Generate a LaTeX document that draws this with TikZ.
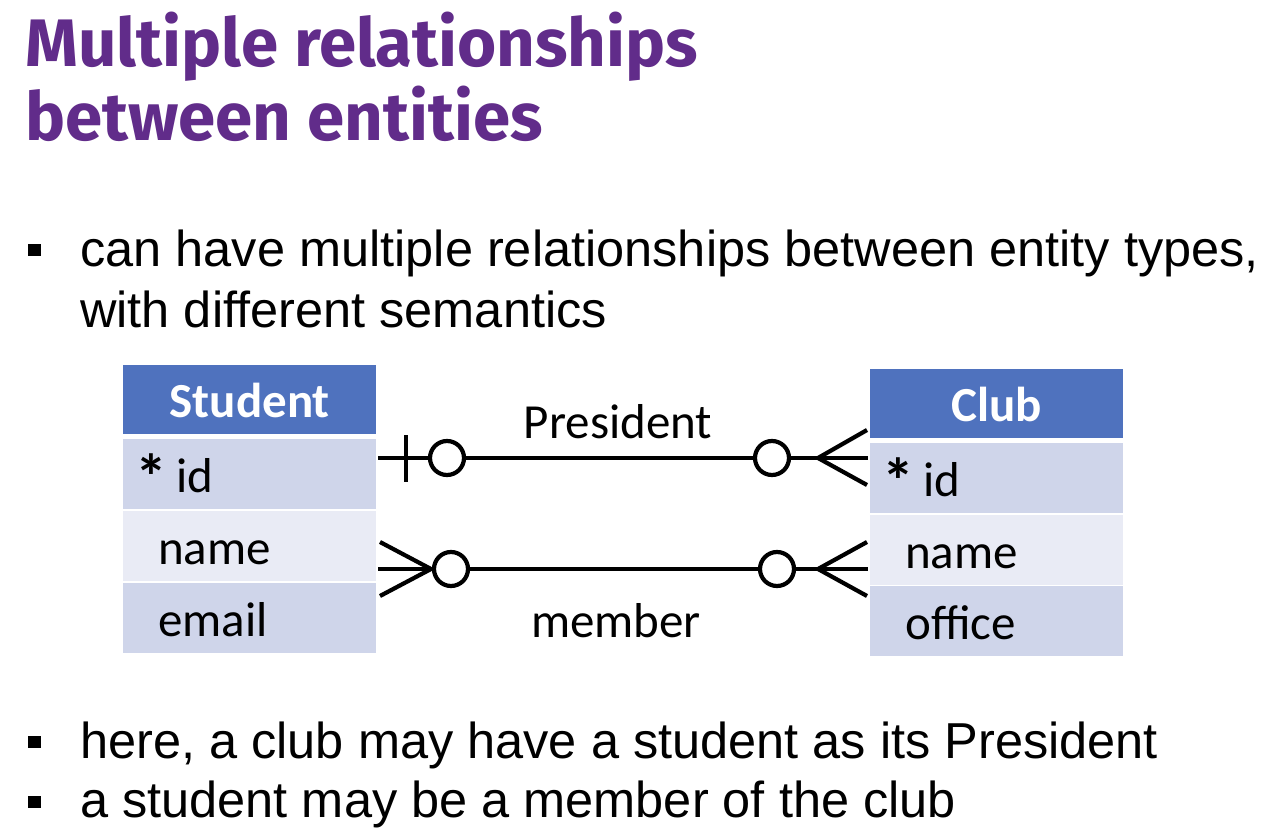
\documentclass[tikz,border=0pt]{standalone}
\usepackage{fontspec}
\setmainfont{Liberation Sans}
\newfontfamily\headfont{Fira Sans}
\newfontfamily\tablefont{Carlito}
\definecolor{titlepurple}{RGB}{97,44,138}
\definecolor{hdrblue}{RGB}{79,114,190}
\definecolor{rowdark}{RGB}{207,213,234}
\definecolor{rowlight}{RGB}{233,235,245}
\newcommand{\keymark}{\raisebox{-7pt}{\bfseries\fontsize{64}{64}\selectfont *}\hspace{9pt}}
\begin{document}
\begin{tikzpicture}[x=1pt,y=-1pt,
  titleline/.style={anchor=base west, inner sep=0, text=titlepurple,
    font=\headfont\bfseries\fontsize{67.2}{70}\selectfont},
  bodytext/.style={anchor=base west, inner sep=0, font=\fontsize{50.5}{60}\selectfont},
  bulletsq/.style={fill=black, draw=none, minimum size=12.5, inner sep=0},
  hdrcell/.style={anchor=north west, fill=hdrblue, text=white, inner sep=0,
    minimum width=253, minimum height=69, text height=36, text depth=0,
    font=\tablefont\bfseries\fontsize{49}{50}\selectfont},
  cell/.style={anchor=north west, inner xsep=12, inner ysep=0, text width=229,
    align=left, minimum height=70, text height=36, text depth=0,
    font=\tablefont\fontsize{49}{50}\selectfont},
  darkcell/.style={cell, fill=rowdark},
  lightcell/.style={cell, fill=rowlight},
  rellabel/.style={anchor=base, inner sep=0, font=\tablefont\fontsize{49}{50}\selectfont},
  rel/.style={draw=black, line width=4.2pt},
  ring/.style={rel, fill=white}
]
\fill[white] (0,0) rectangle (1266,840);
\useasboundingbox (0,0) rectangle (1266,840);

% title
\node[titleline] (t1) at (25,67) {Multiple relationships};
\node[titleline] (t2) at (25,140) {between entities};

% bullet points
\node[bulletsq] (b1) at (34.5,250) {};
\node[bodytext] (l1) at (80,266) {can have multiple relationships between entity types,};
\node[bodytext] (l2) at (80,327) {with different semantics};
\node[bulletsq] (b2) at (34.5,742) {};
\node[bodytext] (l3) at (80,758) {here, a club may have a student as its President};
\node[bulletsq] (b3) at (34.5,802) {};
\node[bodytext] (l4) at (80,817) {a student may be a member of the club};

% Student entity
\node[hdrcell] (shd) at (123,365) {Student};
\node[darkcell] (sid) at (123,439) {\keymark id};
\node[lightcell] (sname) at (123,511) {\hspace*{23pt}name};
\node[darkcell] (semail) at (123,583) {\hspace*{23pt}email};

% Club entity
\node[hdrcell] (chd) at (870,369) {Club};
\node[darkcell] (cid) at (870,443) {\keymark id};
\node[lightcell] (cname) at (870,515) {\hspace*{23pt}name};
\node[darkcell] (coffice) at (870,586) {\hspace*{23pt}office};

% relationship lines
\coordinate (pL) at (378,458);
\coordinate (pR) at (868,458);
\coordinate (mL) at (378,569);
\coordinate (mR) at (868,569);
\draw[rel] (pL) -- (pR);
\draw[rel] (mL) -- (mR);

% President: zero-or-one on the Student side, zero-or-many on the Club side
\draw[rel] (406,435) -- (406,482);
\draw[ring] (447,458) circle[radius=17pt];
\draw[ring] (772,458) circle[radius=17pt];
\draw[rel] (867,430) -- (818,458) -- (867,485);

% member: zero-or-many on both sides
\draw[rel] (380,542) -- (431,569) -- (380,596);
\draw[ring] (451,569) circle[radius=17pt];
\draw[ring] (777,569) circle[radius=17pt];
\draw[rel] (867,542) -- (818,569) -- (867,596);

\node[rellabel] (lp) at (618,438) {President};
\node[rellabel] (lm) at (616,637) {member};
\end{tikzpicture}
\end{document}
